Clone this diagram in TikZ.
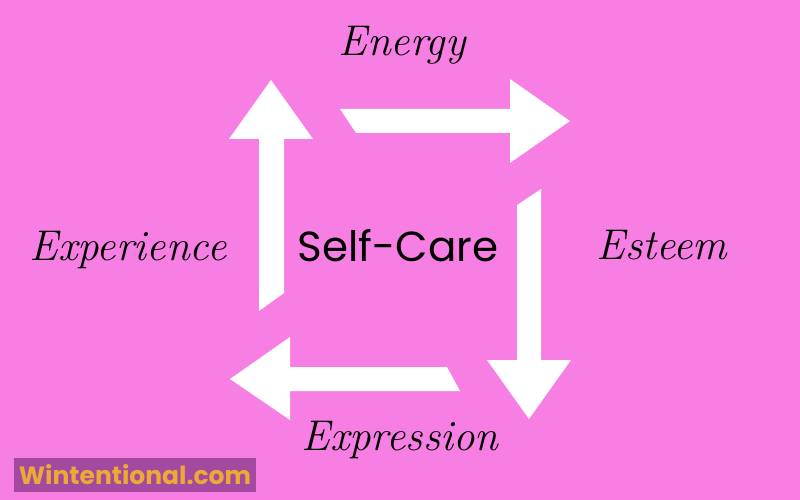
\documentclass[tikz,border=0pt]{standalone}
\usepackage{fontspec}
\usepackage{tikz}
\usetikzlibrary{positioning}
\newfontfamily\popfont{Poppins}
\definecolor{bgpink}{RGB}{247,127,228}
\definecolor{badgepurple}{RGB}{163,73,160}
\definecolor{badgeorange}{RGB}{236,170,52}
\tikzset{cyclearrow/.style={fill=white,draw=none}}
\tikzset{script/.style={font=\fontsize{43}{46}\selectfont\itshape,text=black,inner sep=0pt}}
\tikzset{hub/.style={font=\popfont\fontsize{42}{46}\selectfont,text=black,inner sep=0pt}}
\tikzset{badge/.style={fill=badgepurple,text=badgeorange,font=\popfont\bfseries\fontsize{25}{27}\selectfont,
    minimum width=242pt,minimum height=34pt,inner sep=0pt}}

\begin{document}
\begin{tikzpicture}[x=1pt,y=-1pt]
\fill[bgpink] (0,0) rectangle (800,500);
\useasboundingbox (0,0) rectangle (800,500);
% the four arrows of the cycle
\fill[cyclearrow] (340,109) -- (510,109) -- (510,79) -- (570,121) -- (510,163) -- (510,133) -- (356,133) -- cycle;
\fill[cyclearrow] (517,205) -- (541,189) -- (541,360) -- (571,360) -- (529,419) -- (487,360) -- (517,360) -- cycle;
\fill[cyclearrow] (460,391) -- (290,391) -- (290,420) -- (230,379) -- (290,337) -- (290,367) -- (447,367) -- cycle;
\fill[cyclearrow] (259,311) -- (259,139) -- (229,139) -- (271,80) -- (313,139) -- (284,139) -- (284,293) -- cycle;

\node[hub] (care) at (398,246) {Self-Care};
\node[script] (energy) at (402,45) {Energy};
\node[script] (esteem) at (662,245) {Esteem};
\node[script] (expression) at (400,440) {Expression};
\node[script] (experience) at (128,250) {Experience};

\node[badge] (site) at (135,475) {Wintentional.com};
\end{tikzpicture}
\end{document}
